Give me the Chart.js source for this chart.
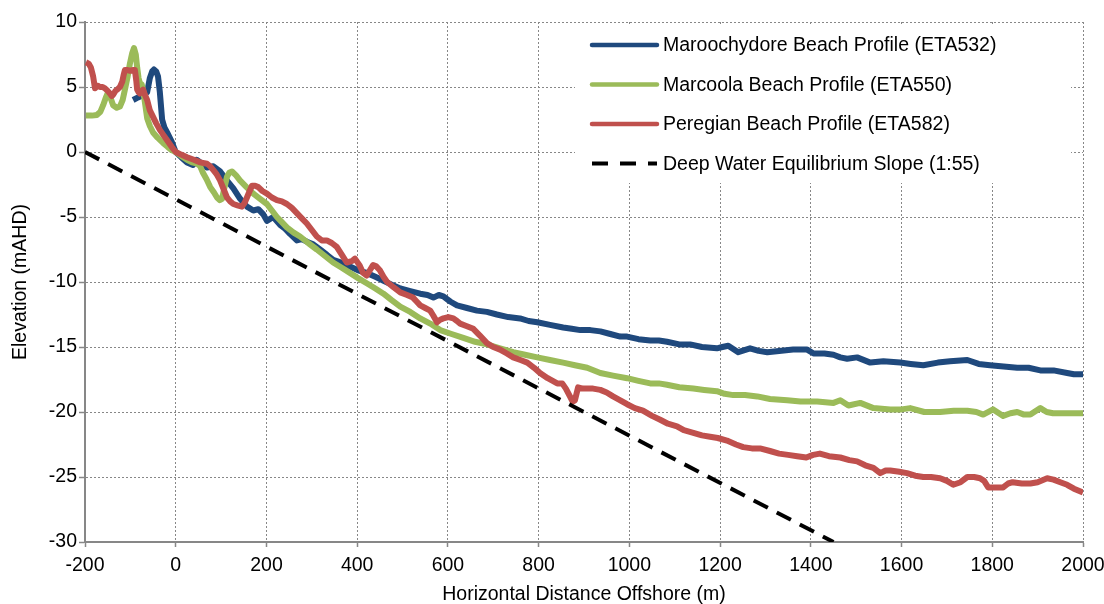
<!DOCTYPE html>
<html>
<head>
<meta charset="utf-8">
<script src="https://cdn.jsdelivr.net/npm/chart.js@4/dist/chart.umd.min.js"></script>
<style>
  html, body { margin: 0; padding: 0; background: #fff; }
</style>
</head>
<body>
<canvas id="profileChart" width="1104" height="604"></canvas>
<script>
// distance offshore (m) and elevation (mAHD) for each surveyed profile
const maroochydoreX = [-94,-83,-70,-63,-57,-52,-48,-43,-39,-35,-30,-25,-19,-9,0,12,25,38,46,58,69,83,98,113,127,142,157,171,182,193,201,215,230,241,252,267,278,289,303,318,333,347,365,384,402,421,440,458,476,495,517,539,555,568,580,590,605,620,642,664,686,708,733,759,778,797,825,854,873,892,914,936,958,980,995,1020,1046,1065,1083,1110,1134,1160,1193,1205,1218,1240,1266,1285,1304,1330,1361,1392,1406,1430,1450,1465,1480,1502,1531,1560,1597,1620,1648,1680,1707,1745,1770,1795,1825,1855,1880,1906,1935,1965,1980,2000];
const maroochydoreY = [4.0,4.2,4.4,4.6,5.7,6.2,6.35,6.2,5.8,4.6,2.5,1.9,1.5,0.8,0,-0.4,-0.8,-1.0,-0.6,-0.9,-1.2,-1.1,-1.5,-2.2,-2.8,-3.6,-4.2,-4.5,-4.4,-4.8,-5.3,-5.0,-5.6,-5.9,-6.3,-6.8,-6.7,-6.9,-7.1,-7.5,-7.9,-8.3,-8.5,-8.8,-9.1,-9.3,-9.6,-9.9,-10.2,-10.5,-10.7,-10.9,-11.0,-11.2,-11.0,-11.1,-11.5,-11.8,-12.0,-12.2,-12.3,-12.5,-12.7,-12.8,-13.0,-13.1,-13.3,-13.5,-13.6,-13.7,-13.7,-13.8,-14.0,-14.2,-14.2,-14.4,-14.5,-14.5,-14.6,-14.8,-14.8,-15.0,-15.1,-15.0,-14.9,-15.4,-15.1,-15.3,-15.4,-15.3,-15.2,-15.2,-15.5,-15.5,-15.6,-15.8,-15.9,-15.8,-16.2,-16.1,-16.2,-16.3,-16.4,-16.2,-16.1,-16.0,-16.3,-16.4,-16.5,-16.6,-16.6,-16.8,-16.8,-17.0,-17.1,-17.1];

const marcoolaX = [-198,-185,-174,-166,-160,-154,-149,-144,-138,-130,-123,-117,-112,-106,-101,-96,-92,-88,-85,-82,-79,-75,-72,-67,-63,-57,-50,-40,-28,-18,-9,0,12,25,36,47,54,60,68,76,84,91,97,102,107,113,118,124,133,142,156,171,186,201,212,223,234,245,260,274,292,311,329,347,366,384,402,421,440,458,476,495,517,539,561,583,608,634,660,686,715,744,770,797,825,854,880,907,936,964,995,1020,1046,1065,1083,1110,1141,1165,1193,1210,1229,1255,1282,1310,1348,1377,1414,1450,1465,1483,1509,1538,1575,1600,1619,1650,1685,1715,1745,1765,1780,1802,1824,1840,1855,1870,1884,1906,1920,1934,1955,1978,2000];
const marcoolaY = [2.8,2.8,2.85,3.1,3.6,4.2,4.6,4.2,3.6,3.4,3.5,4.0,4.8,5.8,6.8,7.6,8.0,7.5,6.5,5.7,5.3,5.2,4.8,3.6,2.6,2.0,1.5,1.1,0.7,0.4,0.15,0,-0.3,-0.6,-0.8,-0.9,-1.1,-1.6,-2.1,-2.7,-3.1,-3.5,-3.7,-3.6,-2.8,-1.9,-1.6,-1.5,-1.8,-2.2,-2.7,-3.2,-3.6,-4.0,-4.5,-5.0,-5.4,-5.8,-6.2,-6.5,-7.0,-7.5,-8.0,-8.5,-8.9,-9.3,-9.7,-10.1,-10.5,-10.9,-11.4,-11.9,-12.3,-12.8,-13.2,-13.7,-14.0,-14.3,-14.6,-14.8,-15.1,-15.4,-15.6,-15.8,-16.0,-16.2,-16.4,-16.6,-17.0,-17.2,-17.4,-17.6,-17.8,-17.8,-17.9,-18.1,-18.2,-18.3,-18.4,-18.6,-18.7,-18.7,-18.8,-19.0,-19.1,-19.2,-19.2,-19.3,-19.1,-19.5,-19.3,-19.7,-19.8,-19.8,-19.7,-20.0,-20.0,-19.9,-19.9,-20.0,-20.2,-19.8,-20.3,-20.1,-20.0,-20.2,-20.2,-19.7,-20.0,-20.1,-20.1,-20.1,-20.1];

const peregianX = [-198,-192,-187,-182,-178,-172,-167,-161,-156,-150,-145,-141,-138,-133,-129,-123,-118,-115,-112,-106,-101,-95,-90,-87,-85,-82,-79,-75,-72,-68,-63,-57,-50,-43,-35,-27,-19,-9,0,12,25,40,54,69,76,83,90,98,106,113,120,127,136,146,152,157,163,168,175,182,191,201,212,223,234,245,256,267,278,289,300,311,322,333,344,355,366,377,388,395,405,413,421,428,435,442,450,458,466,480,495,510,523,531,539,550,561,568,576,583,590,601,612,620,627,642,656,670,686,700,715,730,744,760,775,790,803,820,841,852,860,869,875,880,887,897,907,920,936,950,964,980,995,1012,1030,1050,1068,1085,1105,1120,1141,1160,1178,1195,1215,1235,1251,1270,1288,1310,1330,1350,1370,1390,1405,1420,1440,1465,1485,1502,1520,1538,1553,1565,1575,1595,1612,1630,1648,1665,1685,1700,1714,1730,1745,1760,1773,1782,1791,1810,1824,1835,1845,1865,1884,1900,1921,1935,1950,1965,1980,2000];
const peregianY = [6.9,6.8,6.5,5.8,4.9,5.1,5.0,5.0,4.9,4.7,4.5,4.3,4.4,4.7,4.8,5.0,5.4,5.9,6.3,6.3,6.25,6.3,6.3,5.5,4.8,4.6,4.5,4.7,4.8,4.4,4.0,3.2,2.7,2.2,1.7,1.3,0.9,0.4,0,-0.2,-0.4,-0.6,-0.8,-0.9,-1.1,-1.4,-1.7,-2.2,-2.9,-3.5,-3.8,-4.0,-4.1,-4.2,-3.9,-3.5,-3.0,-2.6,-2.6,-2.7,-3.0,-3.2,-3.5,-3.7,-3.8,-4.0,-4.3,-4.7,-5.1,-5.5,-6.0,-6.5,-6.8,-6.8,-7.0,-7.3,-7.9,-8.5,-8.4,-8.2,-8.7,-9.3,-9.5,-9.1,-8.7,-8.8,-9.1,-9.6,-10.0,-10.4,-10.8,-11.0,-11.2,-11.5,-11.8,-12.0,-12.2,-12.6,-13.1,-12.9,-12.8,-12.7,-12.8,-13.0,-13.2,-13.4,-13.6,-14.1,-14.7,-15.0,-15.2,-15.5,-15.8,-16.0,-16.2,-16.6,-17.0,-17.4,-17.8,-17.8,-18.2,-18.8,-19.2,-19.1,-18.1,-18.2,-18.2,-18.2,-18.3,-18.5,-18.8,-19.1,-19.4,-19.7,-19.9,-20.3,-20.6,-20.9,-21.1,-21.4,-21.6,-21.8,-21.9,-22.0,-22.2,-22.5,-22.7,-22.8,-22.8,-23.0,-23.2,-23.3,-23.4,-23.5,-23.3,-23.2,-23.4,-23.5,-23.7,-23.8,-24.1,-24.3,-24.7,-24.5,-24.5,-24.6,-24.7,-24.9,-25.0,-25.0,-25.1,-25.3,-25.6,-25.4,-25.0,-25.0,-25.1,-25.3,-25.8,-25.8,-25.8,-25.5,-25.4,-25.5,-25.5,-25.4,-25.1,-25.2,-25.4,-25.6,-25.9,-26.2];

// 1:55 slope starting from the -200 m origin
const slopeX = [-200, 1450];
const slopeY = [0, -30];

const seriesLabels = [
  'Maroochydore Beach Profile (ETA532)',
  'Marcoola Beach Profile (ETA550)',
  'Peregian Beach Profile (ETA582)',
  'Deep Water Equilibrium Slope (1:55)'
];

const FONT = { family: '"Liberation Sans", Arial, sans-serif', size: 19.5 };
const AXIS_GREY = '#878787';

function toPoints(xs, ys) {
  return xs.map((x, i) => ({ x: x, y: ys[i] }));
}

// legend sits inside the plot area on a white panel over the grid
const insideLegend = {
  id: 'insideLegend',
  beforeDatasetsDraw(chart) {
    const ctx = chart.ctx;
    const area = chart.chartArea;
    const left = area.left + 490;
    const top = area.top + 3;
    ctx.save();
    ctx.fillStyle = '#fff';
    ctx.fillRect(left, top, 496, 158);
    ctx.font = FONT.size + 'px ' + FONT.family;
    ctx.textBaseline = 'middle';
    ctx.fillStyle = '#000';
    chart.data.datasets.forEach((ds, i) => {
      const y = area.top + 23 + i * 39.5;
      const dashed = ds.borderDash && ds.borderDash.length;
      ctx.beginPath();
      ctx.strokeStyle = ds.borderColor;
      ctx.lineWidth = dashed ? 4 : 4.5;
      ctx.lineCap = dashed ? 'butt' : 'round';
      ctx.setLineDash(dashed ? [16, 12] : []);
      ctx.moveTo(left + 17, y);
      ctx.lineTo(left + 82, y);
      ctx.stroke();
      ctx.setLineDash([]);
      ctx.fillText(ds.label, left + 88, y + 1);
    });
    ctx.restore();
  }
};

const axisGrid = {
  color: AXIS_GREY,
  lineWidth: 1,
  tickColor: AXIS_GREY,
  tickWidth: 1.5,
  tickBorderDash: []
};

const plainNumber = v => String(v);

new Chart(document.getElementById('profileChart'), {
  type: 'line',
  data: {
    datasets: [
      { label: seriesLabels[0], data: toPoints(maroochydoreX, maroochydoreY), borderColor: '#1F497D', borderWidth: 6, order: 3 },
      { label: seriesLabels[1], data: toPoints(marcoolaX, marcoolaY), borderColor: '#9BBB59', borderWidth: 6, order: 2 },
      { label: seriesLabels[2], data: toPoints(peregianX, peregianY), borderColor: '#C0504D', borderWidth: 6, order: 1 },
      { label: seriesLabels[3], data: toPoints(slopeX, slopeY), borderColor: '#000', borderWidth: 4, borderDash: [16, 10], order: 0 }
    ]
  },
  options: {
    responsive: false,
    animation: false,
    devicePixelRatio: 1,
    layout: { padding: { top: 22, right: 21, left: 0, bottom: 0 } },
    elements: {
      point: { radius: 0 },
      line: { tension: 0, borderJoinStyle: 'round', borderCapStyle: 'butt' }
    },
    plugins: {
      legend: { display: false },
      tooltip: { enabled: false }
    },
    scales: {
      x: {
        type: 'linear',
        min: -200,
        max: 2000,
        ticks: { stepSize: 200, font: FONT, color: '#000', padding: 7, maxRotation: 0, callback: plainNumber },
        grid: Object.assign({ tickLength: 5 }, axisGrid),
        border: { color: AXIS_GREY, width: 2, dash: [2, 2] },
        title: { display: true, text: 'Horizontal Distance Offshore (m)', font: Object.assign({ lineHeight: 1 }, FONT), color: '#000', padding: { top: 0, bottom: 0 } },
        afterFit(scale) {
          scale.height = 62;
          // the last tick label may run into the right margin
          scale.paddingRight = 0;
        }
      },
      y: {
        min: -30,
        max: 10,
        ticks: { stepSize: 5, font: FONT, color: '#000', padding: 2, callback: plainNumber },
        grid: Object.assign({ tickLength: 6 }, axisGrid),
        border: { color: AXIS_GREY, width: 2, dash: [2, 2] },
        title: { display: true, text: 'Elevation (mAHD)', font: Object.assign({ lineHeight: 1 }, FONT), color: '#000', padding: { top: 11, bottom: 0 } },
        afterFit(scale) { scale.width = 85; }
      }
    }
  },
  plugins: [insideLegend]
});
</script>
</body>
</html>
